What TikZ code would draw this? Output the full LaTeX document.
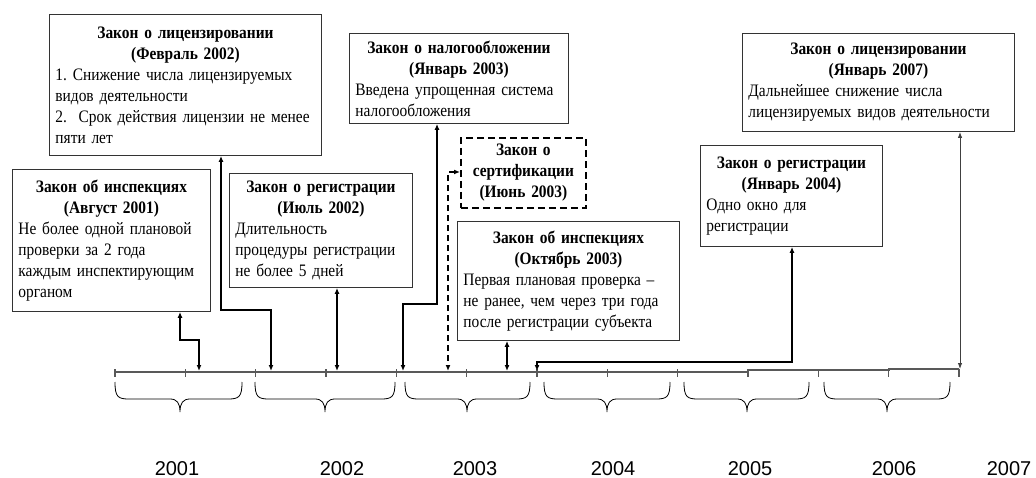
\documentclass[tikz,border=0pt]{standalone}
\usepackage{fontspec}
\setmainfont{Liberation Serif}[FakeStretch=0.88]
\newfontfamily\yearfont{Liberation Sans}
\usetikzlibrary{arrows.meta}
\setlength{\parindent}{0pt}
\frenchspacing
\tikzset{
  lawbox/.style={draw=black!80, line width=0.9pt, anchor=north west, inner xsep=6pt, inner ysep=2pt,
    font=\fontsize{17.5}{21}\selectfont},
  dashbox/.style={lawbox, draw=black, line width=1.8pt, dash pattern=on 7pt off 4pt},
  conn/.style={line width=1.6pt, arrows={Latex[length=6pt,width=5pt]-Latex[length=6pt,width=5pt]}},
  thinconn/.style={line width=0.9pt, draw=black!75, arrows={Latex[length=6pt,width=4.5pt]-Latex[length=6pt,width=4.5pt]}},
  axis/.style={line width=1.1pt, draw=black!65},
  bracepath/.style={line width=0.8pt, draw=black},
  year/.style={font=\yearfont\fontsize{20}{24}\selectfont, anchor=base}
}
\begin{document}
\begin{tikzpicture}[x=1pt, y=-1pt]
\useasboundingbox (0,0) rectangle (1036,478);

% boxes
\node[lawbox, minimum width=272pt, minimum height=141pt, text width=260pt] (A) at (49,14)
 {{\centering\bfseries Закон о лицензировании\\(Февраль 2002)\par}\raggedright
  1. Снижение числа лицензируемых\\видов деятельности\\2.\ \ Срок действия лицензии не менее\\пяти лет};
\node[lawbox, minimum width=198pt, minimum height=142pt, text width=186pt] (B) at (12,169)
 {{\centering\bfseries Закон об инспекциях\\(Август 2001)\par}\raggedright
  Не более одной плановой\\проверки за 2 года\\каждым инспектирующим\\органом};
\node[lawbox, minimum width=183pt, minimum height=114pt, text width=171pt] (C) at (229,173)
 {{\centering\bfseries Закон о регистрации\\(Июль 2002)\par}\raggedright
  Длительность\\процедуры регистрации\\не более 5 дней};
\node[lawbox, minimum width=219pt, minimum height=90pt, text width=207pt] (D) at (349,33)
 {{\centering\bfseries Закон о налогообложении\\(Январь 2003)\par}\raggedright
  Введена упрощенная система\\налогообложения};
\node[dashbox, minimum width=125pt, minimum height=70pt, text width=113pt] (E) at (460,137)
 {{\centering\bfseries Закон о\\сертификации\\(Июнь 2003)\par}};
\node[lawbox, minimum width=222pt, minimum height=119pt, text width=210pt] (F) at (457,221)
 {{\centering\bfseries Закон об инспекциях\\(Октябрь 2003)\par}\raggedright
  Первая плановая проверка –\\не ранее, чем через три года\\после регистрации субъекта};
\node[lawbox, minimum width=182pt, minimum height=101pt, text width=170pt] (G) at (700,145)
 {{\centering\bfseries Закон о регистрации\\(Январь 2004)\par}\raggedright
  Одно окно для\\регистрации};
\node[lawbox, minimum width=272pt, minimum height=98pt, text width=260pt] (H) at (742,33)
 {{\centering\bfseries Закон о лицензировании\\(Январь 2007)\par}\raggedright
  Дальнейшее снижение числа\\лицензируемых видов деятельности};

% timeline
\draw[axis] (115,372) -- (748,372) -- (748,370) -- (889,370) -- (889,369) -- (959,369);
\foreach \t in {115,185.3,255.7,326,396.3,466.7,537,607.3,677.7,748,818.3,888.7,959}
  \draw[axis] (\t,369) -- (\t,377);

% timeline anchor points
\coordinate (tB) at (199,371);
\coordinate (tA) at (271,371);
\coordinate (tC) at (337,371);
\coordinate (tD) at (403,371);
\coordinate (tE) at (448,371);
\coordinate (tF) at (507,371);
\coordinate (tG) at (537,371);
\coordinate (tH) at (960,369);

% connectors
\draw[conn] (B.south -| 180,0) -- (180,340) -| (tB);
\draw[conn] (A.south -| 221,0) -- (221,310) -| (tA);
\draw[conn] (C.south -| tC) -- (tC);
\draw[conn] (D.south -| 437,0) -- (437,304) -| (tD);
\draw[conn, dash pattern=on 6pt off 4pt] (E.west |- 0,172) -| (tE);
\draw[conn] (F.south -| tF) -- (tF);
\draw[conn] (G.south -| 792,0) -- (792,362) -| (tG);
\draw[thinconn] (H.south -| tH) -- (tH);

% braces
\foreach \a/\m/\b in {115/180/242, 255/325/395, 405/467/530, 544/607/670, 684/747/809, 824/887/950}
  \draw[bracepath] (\a,382) .. controls (\a,397) and (\a+3,399) .. (\a+14,399)
     -- (\m-10,399) .. controls (\m-3,399) and (\m,403) .. (\m,412)
     .. controls (\m,403) and (\m+3,399) .. (\m+10,399)
     -- (\b-14,399) .. controls (\b-3,399) and (\b,397) .. (\b,382);

% years
\node[year] (y1) at (177,475) {2001};
\node[year] (y2) at (342,475) {2002};
\node[year] (y3) at (475,475) {2003};
\node[year] (y4) at (613,475) {2004};
\node[year] (y5) at (750,475) {2005};
\node[year] (y6) at (894,475) {2006};
\node[year] (y7) at (1009,475) {2007};
\end{tikzpicture}
\end{document}
